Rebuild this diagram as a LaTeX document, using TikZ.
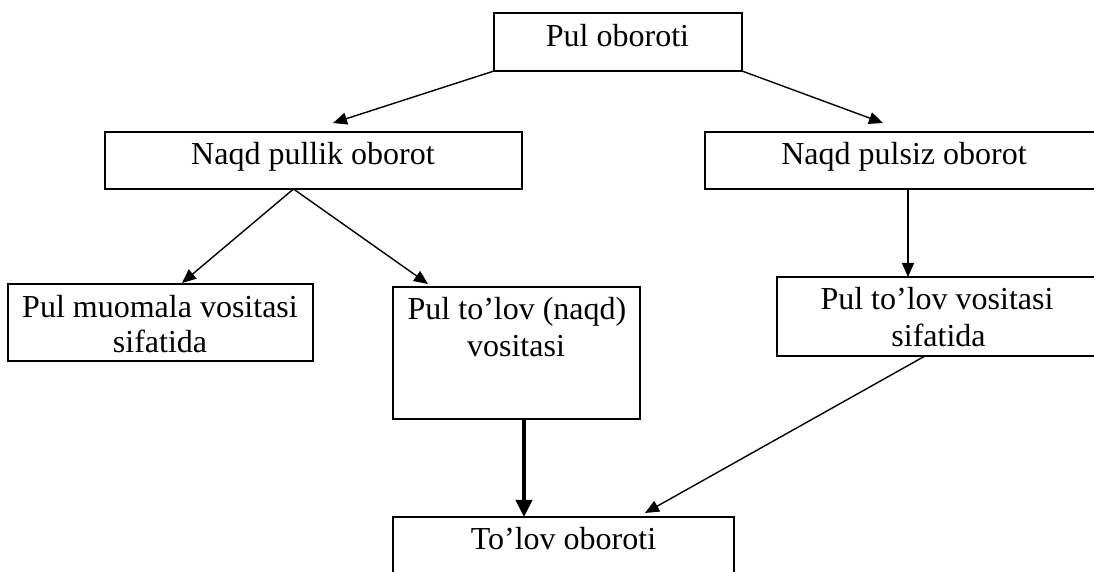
\documentclass[tikz,border=0pt]{standalone}
\usepackage{fontspec}
\setmainfont{Liberation Serif}
\usetikzlibrary{arrows.meta,calc}
\begin{document}
\begin{tikzpicture}[x=0.5pt,y=-0.5pt,
  box/.style={draw=black, line width=0.7pt, inner sep=0pt, outer sep=0pt},
  txt/.style={inner sep=0pt, outer sep=0pt, anchor=base, font=\fontsize{16}{17.5}\selectfont},
  arr/.style={line width=0.7pt, -{Triangle[length=7pt,width=6pt]}},
  thickarr/.style={line width=2pt, -{Triangle[length=8.5pt,width=8pt]}}]
\useasboundingbox (0,0) rectangle (1094,572);
\fill[white] (0,0) rectangle (1094,572);
\clip (0,0) rectangle (1094,572);

% boxes
\node[box, minimum width=124pt, minimum height=29pt] (A) at (618,42) {};
\node[box, minimum width=208.5pt, minimum height=28.5pt] (B) at (313.5,160.5) {};
\node[box, minimum width=199pt, minimum height=28.5pt] (NP) at (904,160.5) {};
\node[box, minimum width=152.5pt, minimum height=38.5pt] (C) at (160.5,322.5) {};
\node[box, minimum width=123.5pt, minimum height=66pt] (D) at (516.5,353) {};
\node[box, minimum width=161.5pt, minimum height=39.5pt] (F) at (938.5,316.5) {};
\node[box, minimum width=170.5pt, minimum height=41.5pt] (E) at (563.5,558.5) {};

% texts
\node[txt] (tA) at (617.5,47) {Pul oboroti};
\node[txt] (tB) at (313,165) {Naqd pullik oborot};
\node[txt] (tNP) at (904,165) {Naqd pulsiz oborot};
\node[txt] (tC1) at (160,318) {Pul muomala vositasi};
\node[txt] (tC2) at (160,353) {sifatida};
\node[txt] (tD1) at (517,320) {Pul to’lov (naqd)};
\node[txt] (tD2) at (516,357) {vositasi};
\node[txt] (tF1) at (937,310) {Pul to’lov vositasi};
\node[txt] (tF2) at (938.5,347) {sifatida};
\node[txt] (tE) at (563.5,550) {To’lov oboroti};

% connectors
\coordinate (tAB) at (333,123);
\coordinate (tANP) at (883,123);
\coordinate (fork) at ([xshift=-10pt]B.south);
\coordinate (tBC) at (182,283);
\coordinate (tBD) at (428,284);
\coordinate (tFE) at (645,513);
\draw[arr] (A.south west) -- (tAB);
\draw[arr] (A.south east) -- (tANP);
\draw[arr] (fork) -- (tBC);
\draw[arr] (fork) -- (tBD);
\draw[arr] ([xshift=2pt]NP.south) -- ([xshift=2pt]NP.south |- F.north);
\draw[thickarr] ([xshift=3.75pt]D.south) -- ([xshift=3.75pt]D.south |- E.north);
\draw[arr] ([xshift=-6.75pt]F.south) -- (tFE);
\end{tikzpicture}
\end{document}
